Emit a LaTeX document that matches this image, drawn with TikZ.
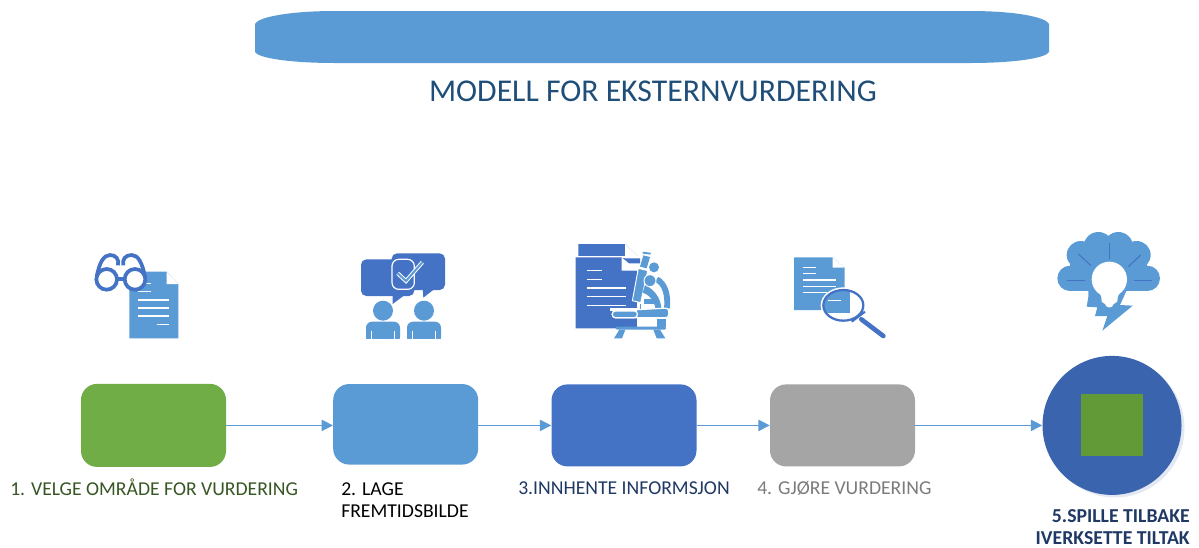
\documentclass[tikz,border=0pt]{standalone}
\usepackage{fontspec}
\setmainfont{Carlito}
\usetikzlibrary{arrows.meta}
\definecolor{cgreen}{HTML}{70AD47}
\definecolor{cblue}{HTML}{5B9BD5}
\definecolor{cdark}{HTML}{4472C4}
\definecolor{cgray}{HTML}{A5A5A5}
\definecolor{ccirc}{HTML}{3A64AE}
\definecolor{csq}{HTML}{629A38}
\definecolor{ctitle}{HTML}{1F4E79}
\definecolor{cnavy}{HTML}{1F3864}
\definecolor{colive}{HTML}{375623}
\definecolor{cgtxt}{HTML}{7B7B7B}
\definecolor{cshadow}{HTML}{E3E8F2}
\tikzset{
  stepbox/.style={fill=#1,rounded corners=12pt,inner sep=0pt,minimum width=108.75pt,text width=0pt},
  conn/.style={draw=cblue,line width=0.95pt,-{Triangle[length=8.5pt,width=8.5pt,fill=cblue]}},
  lbl/.style={anchor=base west,inner sep=0pt,font=\fontsize{14.75}{17}\selectfont},
  boldlbl/.style={anchor=base east,inner sep=0pt,font=\fontsize{14.8}{17}\selectfont\bfseries,text=cnavy},
  zoomed/.style={x=0.25pt,y=-0.25pt},
  wline/.style={draw=white,line width=0.8pt},
}
\begin{document}
\begin{tikzpicture}[x=0.75pt,y=-0.75pt]
\useasboundingbox (0,0) rectangle (1199,547);
% top banner
\fill[cblue] (255,24) .. controls (258,17) and (290,11) .. (335,11) -- (970,11) .. controls (1015,11) and (1046,17) .. (1049,24) -- (1049,52) .. controls (1046,58) and (1015,63) .. (970,63) -- (335,63) .. controls (290,63) and (258,58) .. (255,52) -- cycle;
\node[anchor=base,inner sep=0pt,text=ctitle,font=\fontsize{23.8}{28}\selectfont] (title) at (653,101) {MODELL FOR EKSTERNVURDERING};
% boxes
\node[stepbox=cgreen,minimum height=62.25pt] (a) at (153.5,425.4) {};
\node[stepbox=cblue,minimum height=60.4pt] (b) at (405.7,424.3) {};
\node[stepbox=cdark,minimum height=61.5pt] (c) at (624,425.4) {};
\node[stepbox=cgray,minimum height=61.5pt] (d) at (842.5,425.4) {};
\fill[cshadow] (1115,428) circle (69.5);
\node[circle,fill=ccirc,inner sep=0pt,minimum size=104.25pt] (e) at (1112,425.4) {};
\node[fill=csq,inner sep=0pt,minimum size=46.5pt] (sq) at (e.center) {};
% connectors
\draw[conn] (a.east) -- (b.west |- a.east);
\draw[conn] (b.east |- c.west) -- (c.west);
\draw[conn] (c.east) -- (d.west);
\draw[conn] (d.east) -- (e.west);
% labels
\node[lbl,text=colive] (la) at (10,495) {1. VELGE OMRÅDE FOR VURDERING};
\node[lbl,text=black] (lb1) at (341,495) {2. LAGE};
\node[lbl,text=black] (lb2) at (341,517) {FREMTIDSBILDE};
\node[lbl,text=cnavy] (lc) at (518,494) {3.INNHENTE INFORMSJON};
\node[lbl,text=cgtxt] (ld) at (757,494) {4. GJØRE VURDERING};
\node[boldlbl] (le1) at (1190,522) {5.SPILLE TILBAKE};
\node[boldlbl] (le2) at (1190,544) {IVERKSETTE TILTAK};
% icon 1
\begin{scope}[shift={(80,230)},zoomed]
\fill[cblue] (148,125) -- (260,125) -- (295,162) -- (295,325) -- (148,325) -- cycle;
\fill[white] (260,125) -- (295,162) -- (260,162) -- cycle;
\foreach \xa/\xb/\yy in {175/212/160,175/212/185,175/268/210,175/268/234,175/268/258,230/268/283}
  \draw[wline] (\xa,\yy) -- (\xb,\yy);
\draw[cdark,line width=2.8pt,fill=white] (80,148) circle (31);
\draw[cdark,line width=2.8pt,fill=white] (165,148) circle (31);
\draw[cdark,line width=2.8pt] (111,148) -- (134,148);
\draw[cdark,line width=2.8pt] (50,140) .. controls (58,100) and (70,75) .. (90,75) .. controls (108,75) and (118,88) .. (114,106);
\draw[cdark,line width=2.8pt] (130,106) .. controls (126,88) and (136,75) .. (155,75) .. controls (175,75) and (187,100) .. (195,140);
\end{scope}
% icon 2
\begin{scope}[shift={(80,230)},zoomed]
\fill[cdark,rounded corners=4pt] (843,88) rectangle (1003,198);
\fill[cdark] (938,190) -- (938,222) -- (970,198) -- cycle;
\fill[cdark,rounded corners=4pt] (935,70) rectangle (1095,180);
\fill[cdark] (1028,175) -- (1030,203) -- (1062,178) -- cycle;
\draw[white,line width=0.9pt,rounded corners=5pt] (936,88) -- (1003,88) -- (1003,178) -- (936,178) -- cycle;
\draw[white,line width=3pt] (953,130) -- (978,153) -- (1027,97);
\draw[cblue,line width=1.5pt] (953,130) -- (978,153) -- (1027,97);
\foreach \cx in {909,1032}{
  \fill[cblue] (\cx,242) circle (30);
  \fill[cblue,rounded corners=4.5pt] (\cx-51,340) -- (\cx-51,275) -- (\cx+51,275) -- (\cx+51,340) -- cycle;
  \fill[white] (\cx-52,326) rectangle (\cx+52,345);
  \draw[wline] (\cx-34,302) -- (\cx-34,326);
  \draw[wline] (\cx+34,302) -- (\cx+34,326);
}
\end{scope}
% icon 3: documents
\begin{scope}[shift={(550,230)},zoomed]
\fill[cdark] (85,42) -- (225,42) -- (270,85) -- (270,100) -- (85,100) -- cycle;
\fill[white] (225,42) -- (270,85) -- (225,85) -- cycle;
\fill[white] (76,79) -- (270,79) -- (270,85) -- (76,85) -- cycle;
\fill[cdark] (77,82) -- (215,82) -- (262,125) -- (262,295) -- (77,295) -- cycle;
\fill[white] (215,82) -- (262,122) -- (215,122) -- cycle;
\foreach \xa/\xb/\yy in {110/157/122,110/157/148,110/228/174,110/228/200,110/228/226}
  \draw[wline] (\xa,\yy) -- (\xb,\yy);
\end{scope}
% icon 3: microscope
\begin{scope}[shift={(600,240)},zoomed]
\fill[white] (112,85) rectangle (210,290);
\draw[cblue,line width=1.4pt] (128,38) -- (152,41);
\fill[cblue] (130,46) -- (150,51) -- (140,85) -- (120,80) -- cycle;
\draw[white,line width=0.7pt,fill=cblue] (115,85) -- (143,92) -- (122,188) -- (97,182) -- cycle;
\fill[cblue] (162,82) circle (15);
\draw[cblue,line width=4.4pt] (170,118) .. controls (195,130) and (205,165) .. (201,205);
\fill[cblue] (132,178) rectangle (172,192);
\fill[cblue] (135,135) .. controls (165,150) and (182,175) .. (184,205) -- (205,205) -- (205,232) -- (150,232) -- (168,215) .. controls (165,185) and (150,165) .. (128,158) -- cycle;
\draw[white,line width=0.7pt,fill=cblue] (150,122) circle (18);
\fill[cblue] (120,192) rectangle (122,212);
\draw[white,line width=0.9pt,fill=cblue,rounded corners=2.2pt] (37,213) -- (206,204) -- (206,233) -- (37,233) -- cycle;
\fill[white] (30,204) rectangle (112,212);
\draw[white,line width=0.9pt,fill=cblue,rounded corners=2.2pt] (37,213) -- (112,213) -- (112,233) -- (37,233) -- cycle;
\fill[cblue] (170,236) rectangle (198,262);
\fill[cblue,rounded corners=1pt] (47,260) rectangle (198,269);
\fill[cblue] (58,269) -- (42,295) -- (66,295) -- (76,269) -- cycle;
\fill[cblue] (160,269) -- (170,295) -- (196,295) -- (180,269) -- cycle;
\end{scope}
% icon 4
\begin{scope}[shift={(550,230)},zoomed]
\fill[cblue] (732,82) -- (848,82) -- (884,113) -- (884,240) -- (732,240) -- cycle;
\fill[white] (848,82) -- (884,113) -- (848,113) -- cycle;
\foreach \xa/\xb/\yy in {760/798/112,760/798/130,760/858/150,760/858/169,760/830/188}
  \draw[wline] (\xa,\yy) -- (\xb,\yy);
\draw[white,line width=4pt] (880,226) ellipse (60 and 46);
\fill[white] (880,226) ellipse (60 and 46);
\begin{scope}
\clip (880,226) ellipse (60 and 46);
\fill[cblue] (810,170) rectangle (900,250);
\end{scope}
\draw[cdark,line width=1.7pt] (880,226) ellipse (60 and 46);
\draw[white,line width=0.8pt] (835,212) -- (872,212);
\draw[cdark,line width=1.6pt] (905,275) -- (945,245);
\draw[cdark,line width=3.5pt,line cap=round] (934,268) -- (1000,318);
\end{scope}
% icon 5
\begin{scope}[shift={(1020,230)},zoomed]
\fill[cblue] (150,145) circle (38) (382,145) circle (38) (182,75) circle (42) (350,75) circle (42) (235,50) circle (44) (295,50) circle (44);
\fill[cblue] (150,183) rectangle (382,70);
\fill[cblue] (205,200) -- (200,230) -- (232,232) -- (225,258) -- (262,258) -- (247,302) -- (338,227) -- (300,225) -- (325,170) -- (205,170) -- cycle;
\fill[white] (268,148) circle (53);
\fill[white] (228,175) .. controls (240,190) and (245,195) .. (245,215) -- (255,222) .. controls (258,236) and (278,236) .. (281,222) -- (292,215) .. controls (292,195) and (298,190) .. (308,175) -- cycle;
\begin{scope}[draw=cdark,line width=0.8pt]
\draw (268,40) -- (268,88);
\draw (175,72) -- (213,107);
\draw (362,75) -- (325,110);
\draw (142,151) -- (195,151);
\draw (343,151) -- (397,151);
\end{scope}
\end{scope}
\end{tikzpicture}
\end{document}
